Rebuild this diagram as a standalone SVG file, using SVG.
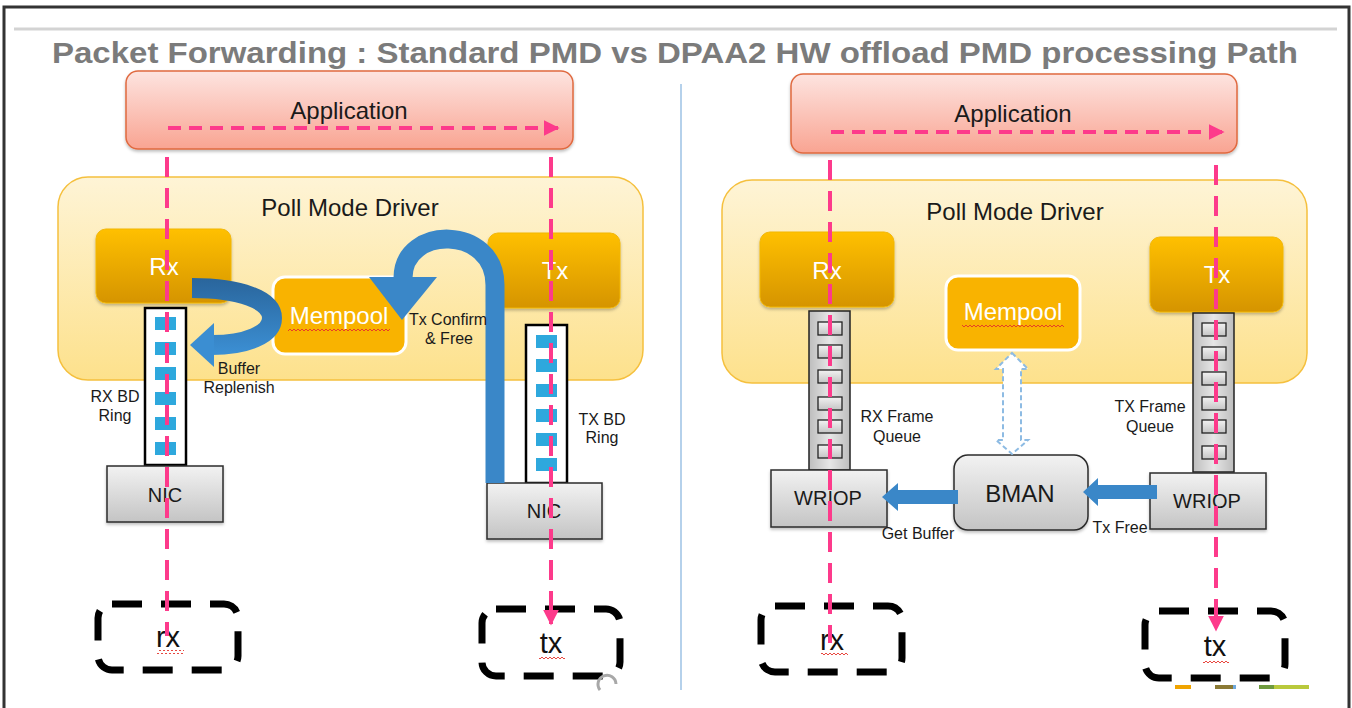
<svg xmlns="http://www.w3.org/2000/svg" width="1352" height="708" viewBox="0 0 1352 708">
<style>
text{font-family:"Liberation Sans",Arial,sans-serif;}
.app{fill:url(#gApp);stroke:#e0693f;stroke-width:1.5;}
.pmd{fill:url(#gPmd);stroke:#f5c03e;stroke-width:1.5;}
.gold{fill:url(#gGold);stroke:#f2b70a;stroke-width:1;}
.mem{fill:#f9b300;stroke:#fff;stroke-width:3;}
.grey{fill:url(#gGrey);stroke:#2b2b2b;stroke-width:1.5;}
.ring{fill:#fff;stroke:#000;stroke-width:2.5;}
.cell{fill:#2ea8dd;}
.q{fill:url(#gQ);stroke:#222;stroke-width:1.5;}
.qcell{fill:url(#gGrey);stroke:#222;stroke-width:1.3;}
.pink{fill:none;stroke:#fd3a8b;stroke-width:4;}
.dashbox{fill:none;stroke:#000;stroke-width:7;stroke-dasharray:30 19;}
.t22{font-size:24px;fill:#1a1a1a;text-anchor:middle;}
.tw{font-size:24px;fill:#fff;text-anchor:middle;}
.lbl{font-size:16px;fill:#1a1a1a;text-anchor:middle;}
.dev{font-size:20px;fill:#1a1a1a;text-anchor:middle;}
.blue{fill:#3a87c8;}
</style>
<defs>
<linearGradient id="gApp" x1="0" y1="0" x2="0" y2="1"><stop offset="0" stop-color="#fde4e0"/><stop offset="1" stop-color="#f9a492"/></linearGradient>
<linearGradient id="gPmd" x1="0" y1="0" x2="0" y2="1"><stop offset="0" stop-color="#fef4d6"/><stop offset="1" stop-color="#fde18c"/></linearGradient>
<linearGradient id="gGold" x1="0" y1="0" x2="0" y2="1"><stop offset="0" stop-color="#ffc000"/><stop offset="1" stop-color="#d59400"/></linearGradient>
<linearGradient id="gGrey" x1="0" y1="0" x2="0" y2="1"><stop offset="0" stop-color="#f2f2f2"/><stop offset="1" stop-color="#c4c4c4"/></linearGradient>
<linearGradient id="gQ" x1="0" y1="0" x2="1" y2="0"><stop offset="0" stop-color="#bdbdbd"/><stop offset="0.5" stop-color="#e6e6e6"/><stop offset="1" stop-color="#bdbdbd"/></linearGradient>
<linearGradient id="gCurve" gradientUnits="userSpaceOnUse" x1="0" y1="280" x2="0" y2="352"><stop offset="0" stop-color="#2a669d"/><stop offset="1" stop-color="#3b8ed2"/></linearGradient>
<pattern id="wave" width="4" height="4" patternUnits="userSpaceOnUse"><path d="M0 3 L2 1 L4 3" fill="none" stroke="#e5332a" stroke-width="0.9"/></pattern>
<marker id="ph" viewBox="0 0 10 10" refX="9" refY="5" markerWidth="4" markerHeight="4" orient="auto" markerUnits="strokeWidth"><path d="M0 0 L10 5 L0 10 Z" fill="#fd3a8b"/></marker>
<filter id="sh" x="-10%" y="-10%" width="120%" height="130%"><feDropShadow dx="0" dy="2" stdDeviation="1.5" flood-color="#000" flood-opacity="0.25"/></filter>
</defs>

<rect x="0" y="0" width="1352" height="708" fill="#fff"/>
<path d="M4 708 V7 H1349 V708" fill="none" stroke="#333" stroke-width="3"/>
<line x1="14" y1="29" x2="1337" y2="29" stroke="#d3d3d3" stroke-width="3"/>
<text x="675" y="63" text-anchor="middle" font-size="30" font-weight="bold" fill="#7b7b7b" textLength="1246" lengthAdjust="spacingAndGlyphs">Packet Forwarding : Standard PMD vs DPAA2 HW offload PMD processing Path</text>
<line x1="681" y1="84" x2="681" y2="690" stroke="#9cc2e5" stroke-width="1.5"/>

<!-- LEFT: Standard PMD -->
<g id="app-left"><rect class="app" x="126" y="71" width="447" height="78" rx="12" filter="url(#sh)"/><text class="t22" x="349" y="119">Application</text></g>
<g id="pmd-left"><rect class="pmd" x="58" y="177" width="585" height="203" rx="30"/><text class="t22" x="350" y="216">Poll Mode Driver</text></g>
<g id="rx-left"><rect class="gold" x="96" y="229" width="135" height="74" rx="10" filter="url(#sh)"/><text class="tw" x="164" y="275">Rx</text></g>
<g id="tx-left"><rect class="gold" x="488" y="233" width="132" height="75" rx="10" filter="url(#sh)"/><text class="tw" x="555" y="279">Tx</text></g>
<g id="mempool-left"><rect class="mem" x="273" y="277" width="133" height="77" rx="12"/><text class="tw" x="339" y="324">Mempool</text><rect x="288" y="327" width="102" height="4" fill="url(#wave)"/></g>
<g id="rxring-left"><rect class="ring" x="145" y="308" width="41" height="157"/>
<rect class="cell" x="155" y="317" width="21" height="13"/><rect class="cell" x="155" y="342" width="21" height="13"/><rect class="cell" x="155" y="367" width="21" height="13"/><rect class="cell" x="155" y="392" width="21" height="13"/><rect class="cell" x="155" y="417" width="21" height="13"/><rect class="cell" x="155" y="442" width="21" height="13"/>
<text class="lbl" x="115" y="402">RX BD</text><text class="lbl" x="115" y="421">Ring</text></g>
<g id="txring-left"><rect class="ring" x="526" y="325" width="41" height="158"/>
<rect class="cell" x="536" y="335" width="21" height="13"/><rect class="cell" x="536" y="359" width="21" height="13"/><rect class="cell" x="536" y="384" width="21" height="13"/><rect class="cell" x="536" y="409" width="21" height="13"/><rect class="cell" x="536" y="433" width="21" height="13"/><rect class="cell" x="536" y="458" width="21" height="13"/>
<text class="lbl" x="602" y="425">TX BD</text><text class="lbl" x="602" y="443">Ring</text></g>
<g id="nic-left-rx"><rect class="grey" x="107" y="466" width="116" height="56" filter="url(#sh)"/><text class="dev" x="165" y="502">NIC</text></g>
<g id="nic-left-tx"><rect class="grey" x="487" y="483" width="115" height="56" filter="url(#sh)"/><text class="dev" x="544" y="518">NIC</text></g>
<g id="rx-port-left"><rect class="dashbox" x="98" y="604" width="140" height="66" rx="14"/><text x="168" y="647" font-size="29" fill="#111" text-anchor="middle">rx</text><rect x="157" y="650" width="27" height="4" fill="url(#wave)"/></g>
<g id="tx-port-left"><rect class="dashbox" x="482" y="609" width="138" height="67" rx="14"/><text x="551" y="653" font-size="29" fill="#111" text-anchor="middle">tx</text><rect x="539" y="656" width="26" height="4" fill="url(#wave)"/></g>

<!-- RIGHT: DPAA2 -->
<g id="app-right"><rect class="app" x="791" y="74" width="446" height="79" rx="12" filter="url(#sh)"/><text class="t22" x="1013" y="122">Application</text></g>
<g id="pmd-right"><rect class="pmd" x="722" y="180" width="585" height="203" rx="30"/><text class="t22" x="1015" y="220">Poll Mode Driver</text></g>
<g id="rx-right"><rect class="gold" x="760" y="232" width="134" height="75" rx="10" filter="url(#sh)"/><text class="tw" x="827" y="279">Rx</text></g>
<g id="tx-right"><rect class="gold" x="1150" y="237" width="133" height="75" rx="10" filter="url(#sh)"/><text class="tw" x="1217" y="283">Tx</text></g>
<g id="mempool-right"><rect class="mem" x="946" y="276" width="134" height="74" rx="12"/><text class="tw" x="1013" y="320">Mempool</text><rect x="962" y="323" width="102" height="4" fill="url(#wave)"/></g>
<g id="rxq-right"><rect class="q" x="809" y="311" width="41" height="159"/>
<rect class="qcell" x="818" y="322" width="24" height="13"/><rect class="qcell" x="818" y="345" width="24" height="13"/><rect class="qcell" x="818" y="370" width="24" height="13"/><rect class="qcell" x="818" y="397" width="24" height="13"/><rect class="qcell" x="818" y="420" width="24" height="13"/><rect class="qcell" x="818" y="445" width="24" height="13"/>
<text class="lbl" x="897" y="422">RX Frame</text><text class="lbl" x="897" y="442">Queue</text></g>
<g id="txq-right"><rect class="q" x="1193" y="313" width="41" height="159"/>
<rect class="qcell" x="1202" y="323" width="24" height="13"/><rect class="qcell" x="1202" y="347" width="24" height="13"/><rect class="qcell" x="1202" y="372" width="24" height="13"/><rect class="qcell" x="1202" y="397" width="24" height="13"/><rect class="qcell" x="1202" y="420" width="24" height="13"/><rect class="qcell" x="1202" y="446" width="24" height="13"/>
<text class="lbl" x="1150" y="412">TX Frame</text><text class="lbl" x="1150" y="432">Queue</text></g>
<g id="wriop-rx"><rect class="grey" x="771" y="470" width="116" height="57" filter="url(#sh)"/><text class="dev" x="828" y="505">WRIOP</text></g>
<g id="wriop-tx"><rect class="grey" x="1150" y="473" width="116" height="56" filter="url(#sh)"/><text class="dev" x="1207" y="508">WRIOP</text></g>
<g id="bman"><rect class="grey" x="954" y="455" width="134" height="75" rx="14" filter="url(#sh)"/><text x="1020" y="502" font-size="24" fill="#1a1a1a" text-anchor="middle">BMAN</text></g>
<g id="rx-port-right"><rect class="dashbox" x="761" y="606" width="141" height="66" rx="14"/><text x="832" y="650" font-size="29" fill="#111" text-anchor="middle">rx</text><rect x="821" y="653" width="27" height="4" fill="url(#wave)"/></g>
<g id="tx-port-right"><rect class="dashbox" x="1145" y="611" width="140" height="67" rx="14"/><text x="1215" y="656" font-size="29" fill="#111" text-anchor="middle">tx</text><rect x="1203" y="659" width="26" height="4" fill="url(#wave)"/></g>

<!-- slide artifacts -->
<g id="artifacts">
<path d="M600 690 A9 9 0 1 1 616 684" fill="none" stroke="#a8a8a8" stroke-width="3"/>
<rect x="1175" y="685" width="16" height="4" fill="#f0a400"/><rect x="1215" y="685" width="18" height="4" fill="#8b7a35"/><rect x="1233" y="685" width="3" height="4" fill="#6fa8dc"/><rect x="1259" y="685" width="15" height="4" fill="#6e9a3e"/><rect x="1274" y="685" width="35" height="4" fill="#b9c93c"/>
</g>

<g id="connectors">
<!-- left blue arrows -->
<path d="M192 288 C240 288 272 300 272 318 C272 335 245 345 212 345" fill="none" stroke="url(#gCurve)" stroke-width="20"/>
<polygon points="214,323 214,367 190,345" fill="#3b8ed2"/>
<path d="M495 483 L495 285 C495 225 403 225 403 278" fill="none" stroke="#3a87c8" stroke-width="19"/>
<polygon class="blue" points="369,277 437,277 402,320"/>
<text class="lbl" x="448" y="325">Tx Confirm</text><text class="lbl" x="449" y="344">&amp; Free</text>
<text class="lbl" x="239" y="374">Buffer</text><text class="lbl" x="239" y="393">Replenish</text>
<!-- right blue arrows -->
<polygon class="blue" points="958,490 898,490 898,483 882,497 898,511 898,504 958,504"/>
<polygon class="blue" points="1157,485 1098,485 1098,478 1083,492 1098,506 1098,499 1157,499"/>
<text class="lbl" x="918" y="539">Get Buffer</text>
<text class="lbl" x="1120" y="533">Tx Free</text>
<polygon points="1012,353 1028,369 1021,369 1021,440 1028,440 1012,454 996,440 1003,440 1003,369 996,369" fill="#fff" stroke="#8dbbe3" stroke-width="2" stroke-dasharray="5 3"/>
<!-- pink packet paths -->
<line class="pink" x1="168" y1="128" x2="558" y2="128" stroke-dasharray="13 8" stroke-width="3.5" marker-end="url(#ph)"/>
<line class="pink" x1="167" y1="157" x2="167" y2="636" stroke-dasharray="20 11"/>
<line class="pink" x1="551" y1="157" x2="551" y2="624" stroke-dasharray="20 11" marker-end="url(#ph)"/>
<line class="pink" x1="831" y1="132" x2="1223" y2="132" stroke-dasharray="13 8" stroke-width="3.5" marker-end="url(#ph)"/>
<line class="pink" x1="830" y1="160" x2="830" y2="643" stroke-dasharray="20 11"/>
<line class="pink" x1="1216" y1="165" x2="1216" y2="630" stroke-dasharray="20 11" marker-end="url(#ph)"/>
</g>
</svg>
